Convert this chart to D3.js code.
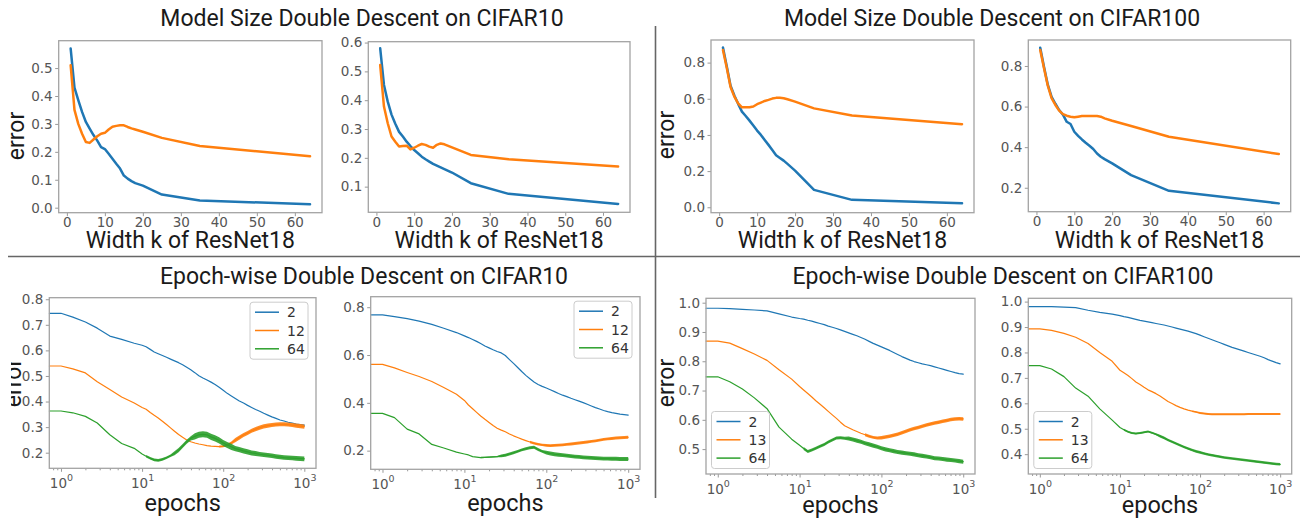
<!DOCTYPE html>
<html>
<head>
<meta charset="utf-8">
<script src="https://cdnjs.cloudflare.com/ajax/libs/d3/7.8.5/d3.min.js"></script>
<style>
  body { margin: 0; background: #fff; }
  svg { display: block; }
  .tick-label { font-family: 'DejaVu Sans', sans-serif; font-size: 13.5px; fill: #555; }
  .big { font-family: Roboto, sans-serif; fill: #1a1a1a; }
  .leg { font-family: 'DejaVu Sans', sans-serif; font-size: 14px; fill: #333; }
</style>
</head>
<body>
<svg id="fig" width="1300" height="520"></svg>
<script>
// ---- model-size panels (x = width k of ResNet18) ----
const widths = [1, 2, 3, 4, 5, 6, 7, 8, 9, 10, 11, 12, 13, 14, 15, 16, 17, 18, 20, 25, 35, 64];

const c10LeftBlue = [0.57, 0.43, 0.385, 0.343, 0.307, 0.283, 0.26, 0.24, 0.217, 0.21, 0.193, 0.175, 0.157, 0.14, 0.115, 0.104, 0.095, 0.088, 0.079, 0.047, 0.026, 0.012];
const c10LeftOrange = [0.51, 0.35, 0.30, 0.265, 0.235, 0.232, 0.244, 0.256, 0.265, 0.268, 0.28, 0.29, 0.293, 0.295, 0.295, 0.289, 0.284, 0.28, 0.272, 0.25, 0.221, 0.184];
const c10RightBlue = [0.58, 0.453, 0.395, 0.35, 0.318, 0.29, 0.274, 0.256, 0.241, 0.227, 0.216, 0.204, 0.195, 0.187, 0.179, 0.173, 0.167, 0.161, 0.149, 0.112, 0.075, 0.04];
const c10RightOrange = [0.522, 0.378, 0.32, 0.274, 0.256, 0.239, 0.241, 0.242, 0.229, 0.235, 0.242, 0.248, 0.245, 0.239, 0.235, 0.245, 0.25, 0.247, 0.236, 0.21, 0.195, 0.17];
const c100LeftBlue = [0.883, 0.78, 0.672, 0.618, 0.572, 0.529, 0.505, 0.479, 0.452, 0.424, 0.4, 0.372, 0.345, 0.317, 0.288, 0.273, 0.258, 0.24, 0.203, 0.096, 0.041, 0.022];
const c100LeftOrange = [0.87, 0.772, 0.665, 0.612, 0.575, 0.553, 0.553, 0.553, 0.557, 0.57, 0.579, 0.588, 0.594, 0.601, 0.605, 0.605, 0.603, 0.597, 0.584, 0.547, 0.507, 0.459];
const c100RightBlue = [0.89, 0.795, 0.708, 0.648, 0.614, 0.583, 0.56, 0.525, 0.514, 0.476, 0.456, 0.438, 0.422, 0.407, 0.391, 0.369, 0.353, 0.341, 0.32, 0.262, 0.185, 0.123];
const c100RightOrange = [0.879, 0.789, 0.703, 0.641, 0.608, 0.58, 0.563, 0.555, 0.55, 0.547, 0.55, 0.553, 0.553, 0.553, 0.553, 0.553, 0.55, 0.542, 0.53, 0.504, 0.451, 0.366];

// ---- epoch-wise panels (x = epochs, log) ----
const epochs = [0.72, 1, 1.4, 2, 2.8, 4, 5.6, 8,
  10, 11.2, 12.6, 14.1, 15.8, 17.8, 20, 22.4, 25.1, 28.2, 31.6, 35.5, 39.8, 44.7, 50.1, 56.2, 63.1, 70.8, 79.4, 89.1,
  100, 112, 126, 141, 158, 178, 200, 224, 251, 282, 316, 355, 398, 447, 501, 562, 631, 708, 794, 891,
  1000];

// CIFAR10, left
const ep10LeftW2 = [0.745, 0.745, 0.73, 0.711, 0.687, 0.656, 0.643, 0.628,
  0.62, 0.614, 0.604, 0.594, 0.587, 0.58, 0.573, 0.566, 0.559, 0.552, 0.544, 0.534, 0.524, 0.513, 0.501, 0.492, 0.484, 0.476, 0.467, 0.456,
  0.444, 0.432, 0.422, 0.412, 0.402, 0.394, 0.385, 0.377, 0.369, 0.362, 0.354, 0.347, 0.34, 0.334, 0.328, 0.324, 0.319, 0.316, 0.312, 0.31,
  0.308];
const ep10LeftW12 = [0.539, 0.539, 0.528, 0.512, 0.477, 0.447, 0.418, 0.394,
  0.377, 0.37, 0.357, 0.346, 0.336, 0.323, 0.31, 0.297, 0.284, 0.271, 0.26, 0.25, 0.243, 0.238, 0.234, 0.231, 0.228, 0.226, 0.225, 0.224,
  0.225, 0.23, 0.238, 0.249, 0.259, 0.269, 0.277, 0.286, 0.292, 0.298, 0.303, 0.306, 0.308, 0.31, 0.311, 0.311, 0.31, 0.308, 0.306, 0.304,
  0.302];
const ep10LeftW12Noise = [0, 0, 0, 0, 0, 0, 0, 0,
  0, 0, 0, 0, 0, 0, 0, 0, 0, 0, 0, 0, 0, 0, 0, 0, 0, 0, 0, 0.004,
  0.004, 0.005, 0.006, 0.008, 0.008, 0.008, 0.008, 0.008, 0.008, 0.008, 0.008, 0.008, 0.008, 0.008, 0.008, 0.008, 0.008, 0.008, 0.008, 0.008,
  0.008];
const ep10LeftW64 = [0.363, 0.363, 0.356, 0.342, 0.316, 0.27, 0.236, 0.217,
  0.195, 0.186, 0.178, 0.172, 0.17, 0.174, 0.18, 0.188, 0.198, 0.21, 0.226, 0.243, 0.256, 0.264, 0.27, 0.272, 0.27, 0.262, 0.256, 0.248,
  0.238, 0.23, 0.223, 0.216, 0.212, 0.207, 0.203, 0.199, 0.197, 0.194, 0.192, 0.19, 0.188, 0.185, 0.183, 0.181, 0.18, 0.179, 0.178, 0.177,
  0.176];
const ep10LeftW64Noise = [0, 0, 0, 0, 0, 0, 0, 0,
  0, 0.005, 0.005, 0.005, 0.005, 0.005, 0.005, 0.005, 0.008, 0.008, 0.008, 0.008, 0.008, 0.012, 0.012, 0.012, 0.012, 0.012, 0.012, 0.012,
  0.012, 0.012, 0.012, 0.01, 0.01, 0.01, 0.01, 0.01, 0.01, 0.009, 0.009, 0.009, 0.009, 0.009, 0.009, 0.009, 0.009, 0.009, 0.009, 0.009,
  0.009];

// CIFAR10, right
const ep10RightW2 = [0.768, 0.768, 0.761, 0.752, 0.742, 0.728, 0.712, 0.694,
  0.68, 0.673, 0.665, 0.657, 0.648, 0.638, 0.63, 0.622, 0.615, 0.609, 0.598, 0.581, 0.565, 0.548, 0.531, 0.515, 0.501, 0.487, 0.477, 0.469,
  0.462, 0.455, 0.447, 0.439, 0.432, 0.426, 0.419, 0.413, 0.407, 0.401, 0.394, 0.387, 0.38, 0.374, 0.368, 0.363, 0.359, 0.356, 0.353, 0.351,
  0.349];
const ep10RightW12 = [0.561, 0.561, 0.546, 0.527, 0.51, 0.489, 0.464, 0.436,
  0.41, 0.391, 0.375, 0.36, 0.345, 0.331, 0.318, 0.305, 0.294, 0.286, 0.279, 0.27, 0.262, 0.255, 0.248, 0.242, 0.236, 0.231, 0.227, 0.224,
  0.222, 0.221, 0.222, 0.223, 0.224, 0.226, 0.228, 0.23, 0.232, 0.234, 0.236, 0.239, 0.241, 0.244, 0.247, 0.249, 0.251, 0.253, 0.254, 0.255,
  0.256];
const ep10RightW12Noise = [0, 0, 0, 0, 0, 0, 0, 0,
  0, 0, 0, 0, 0, 0, 0, 0, 0, 0, 0, 0, 0, 0, 0, 0, 0.005, 0.005, 0.005, 0.005,
  0.006, 0.006, 0.006, 0.006, 0.006, 0.006, 0.006, 0.006, 0.006, 0.006, 0.006, 0.006, 0.006, 0.006, 0.006, 0.006, 0.006, 0.006, 0.006, 0.006,
  0.006];
const ep10RightW64 = [0.356, 0.356, 0.338, 0.29, 0.27, 0.226, 0.211, 0.194,
  0.186, 0.182, 0.175, 0.173, 0.171, 0.172, 0.173, 0.174, 0.175, 0.178, 0.181, 0.186, 0.191, 0.197, 0.203, 0.208, 0.212, 0.214, 0.205, 0.197,
  0.192, 0.188, 0.185, 0.183, 0.181, 0.179, 0.177, 0.175, 0.174, 0.172, 0.171, 0.17, 0.169, 0.168, 0.167, 0.167, 0.166, 0.166, 0.165, 0.165,
  0.165];
const ep10RightW64Noise = [0, 0, 0, 0, 0, 0, 0, 0,
  0, 0, 0, 0, 0.003, 0.003, 0.003, 0.003, 0.003, 0.006, 0.006, 0.006, 0.006, 0.006, 0.006, 0.006, 0.006, 0.006, 0.006, 0.006,
  0.008, 0.008, 0.008, 0.008, 0.008, 0.008, 0.008, 0.008, 0.008, 0.008, 0.008, 0.008, 0.008, 0.008, 0.008, 0.008, 0.008, 0.008, 0.008, 0.008,
  0.008];

// CIFAR100, left
const ep100LeftW2 = [0.981, 0.981, 0.98, 0.977, 0.975, 0.972, 0.962, 0.951,
  0.946, 0.944, 0.94, 0.937, 0.933, 0.929, 0.925, 0.92, 0.916, 0.912, 0.907, 0.902, 0.897, 0.892, 0.887, 0.881, 0.875, 0.868, 0.861, 0.855,
  0.849, 0.843, 0.837, 0.83, 0.823, 0.816, 0.81, 0.804, 0.799, 0.795, 0.791, 0.788, 0.785, 0.781, 0.777, 0.773, 0.769, 0.765, 0.761, 0.758,
  0.756];
const ep100LeftW13 = [0.869, 0.869, 0.862, 0.843, 0.825, 0.803, 0.771, 0.739,
  0.714, 0.702, 0.69, 0.678, 0.665, 0.653, 0.641, 0.629, 0.617, 0.605, 0.592, 0.58, 0.573, 0.566, 0.56, 0.554, 0.549, 0.544, 0.54, 0.538,
  0.539, 0.541, 0.544, 0.547, 0.551, 0.556, 0.561, 0.566, 0.57, 0.574, 0.578, 0.582, 0.586, 0.589, 0.592, 0.595, 0.598, 0.601, 0.603, 0.604,
  0.603];
const ep100LeftW13Noise = [0, 0, 0, 0, 0, 0, 0, 0,
  0, 0, 0, 0, 0, 0, 0, 0, 0, 0, 0, 0, 0, 0, 0, 0, 0.005, 0.005, 0.005, 0.005,
  0.006, 0.006, 0.006, 0.006, 0.006, 0.006, 0.006, 0.006, 0.006, 0.006, 0.006, 0.006, 0.006, 0.006, 0.006, 0.006, 0.006, 0.006, 0.006, 0.006,
  0.006];
const ep100LeftW64 = [0.747, 0.747, 0.73, 0.705, 0.675, 0.638, 0.575, 0.534,
  0.513, 0.502, 0.492, 0.497, 0.503, 0.51, 0.516, 0.524, 0.531, 0.538, 0.539, 0.537, 0.536, 0.533, 0.529, 0.525, 0.52, 0.516, 0.512, 0.508,
  0.503, 0.499, 0.496, 0.493, 0.49, 0.488, 0.486, 0.484, 0.482, 0.479, 0.477, 0.475, 0.472, 0.469, 0.468, 0.466, 0.464, 0.463, 0.461, 0.459,
  0.457];
const ep100LeftW64Noise = [0, 0, 0, 0, 0, 0, 0, 0,
  0, 0.005, 0.005, 0.005, 0.005, 0.005, 0.005, 0.005, 0.005, 0.005, 0.005, 0.005, 0.007, 0.007, 0.007, 0.007, 0.007, 0.007, 0.007, 0.007,
  0.007, 0.007, 0.007, 0.007, 0.007, 0.007, 0.007, 0.007, 0.007, 0.007, 0.007, 0.007, 0.007, 0.007, 0.007, 0.007, 0.007, 0.007, 0.007, 0.007,
  0.007];

// CIFAR100, right
const ep100RightW2 = [0.98, 0.98, 0.98, 0.978, 0.976, 0.966, 0.958, 0.951,
  0.945, 0.941, 0.938, 0.934, 0.93, 0.926, 0.923, 0.92, 0.917, 0.914, 0.911, 0.908, 0.904, 0.9, 0.896, 0.892, 0.888, 0.884, 0.879, 0.874,
  0.868, 0.862, 0.856, 0.85, 0.844, 0.838, 0.832, 0.826, 0.82, 0.815, 0.81, 0.805, 0.8, 0.795, 0.79, 0.785, 0.779, 0.772, 0.766, 0.76,
  0.755];
const ep100RightW13 = [0.893, 0.893, 0.887, 0.875, 0.86, 0.835, 0.8, 0.765,
  0.73, 0.72, 0.709, 0.697, 0.684, 0.674, 0.663, 0.653, 0.646, 0.638, 0.629, 0.618, 0.607, 0.599, 0.591, 0.584, 0.578, 0.573, 0.569, 0.566,
  0.562, 0.56, 0.558, 0.557, 0.557, 0.557, 0.557, 0.557, 0.557, 0.557, 0.557, 0.557, 0.558, 0.558, 0.558, 0.558, 0.558, 0.558, 0.558, 0.558,
  0.558];
const ep100RightW13Noise = [0, 0, 0, 0, 0, 0, 0, 0,
  0, 0, 0, 0, 0, 0, 0, 0, 0, 0, 0, 0, 0, 0, 0, 0, 0, 0, 0.003, 0.003,
  0.004, 0.004, 0.004, 0.004, 0.004, 0.004, 0.004, 0.004, 0.004, 0.004, 0.004, 0.004, 0.004, 0.004, 0.004, 0.004, 0.004, 0.004, 0.004, 0.004,
  0.004];
const ep100RightW64 = [0.748, 0.748, 0.735, 0.705, 0.66, 0.628, 0.578, 0.534,
  0.505, 0.496, 0.488, 0.483, 0.481, 0.483, 0.486, 0.489, 0.484, 0.478, 0.471, 0.464, 0.456, 0.449, 0.442, 0.435, 0.428, 0.422, 0.416, 0.411,
  0.407, 0.403, 0.399, 0.396, 0.393, 0.39, 0.387, 0.385, 0.383, 0.381, 0.379, 0.377, 0.375, 0.373, 0.371, 0.369, 0.367, 0.365, 0.363, 0.361,
  0.36];
const ep100RightW64Noise = [0, 0, 0, 0, 0, 0, 0, 0,
  0, 0.004, 0.004, 0.004, 0.004, 0.004, 0.004, 0.004, 0.004, 0.004, 0.005, 0.005, 0.005, 0.005, 0.005, 0.005, 0.005, 0.005, 0.005, 0.005,
  0.005, 0.005, 0.005, 0.005, 0.005, 0.005, 0.005, 0.005, 0.005, 0.005, 0.005, 0.005, 0.005, 0.005, 0.005, 0.005, 0.005, 0.005, 0.005, 0.005,
  0.005];

const sizeTicks = [0, 10, 20, 30, 40, 50, 60];
const epochTicks = [1, 10, 100, 1000];
const legend10 = ['2', '12', '64'];
const legend100 = ['2', '13', '64'];

const blue = '#1f77b4', orange = '#ff7f0e', green = '#2ca02c';
const svg = d3.select('#fig');

function styleAxis(sel) {
  sel.attr('font-size', null).attr('font-family', null);
  sel.select('.domain').remove();
  sel.selectAll('line').attr('stroke', '#999').attr('stroke-width', 1);
  sel.selectAll('text').attr('class', 'tick-label').attr('fill', null);
}

function drawPanel(p) {
  const [l, t, r, b] = p.box;
  const g = svg.append('g');
  const x = (p.log ? d3.scaleLog() : d3.scaleLinear()).domain(p.xDomain).range([l, r]);
  const y = d3.scaleLinear().domain(p.yDomain).range([b, t]);

  g.append('g')
    .attr('transform', 'translate(' + l + ',0)')
    .call(d3.axisLeft(y).tickValues(p.yTicks).tickSize(3.5).tickPadding(2.5).tickFormat(d3.format('.1f')))
    .call(styleAxis);

  if (p.log) {
    let minor = x.ticks().filter(v => Math.abs(Math.log10(v) - Math.round(Math.log10(v))) > 1e-6);
    g.append('g')
      .attr('transform', 'translate(0,' + b + ')')
      .call(d3.axisBottom(x).tickValues(minor).tickSize(2).tickFormat(''))
      .call(styleAxis);
    let xa = g.append('g')
      .attr('transform', 'translate(0,' + b + ')')
      .call(d3.axisBottom(x).tickValues(p.xTicks).tickSize(3.5).tickFormat(''))
      .call(styleAxis);
    xa.selectAll('.tick text').remove();
    let lab = xa.selectAll('.tick')
      .append('text')
      .attr('class', 'tick-label')
      .attr('text-anchor', 'middle')
      .attr('y', 19.5);
    lab.append('tspan').text('10');
    lab.append('tspan')
      .attr('dy', -6.5)
      .style('font-size', '9.5px')
      .text(d => Math.round(Math.log10(d)));
  } else {
    g.append('g')
      .attr('transform', 'translate(0,' + b + ')')
      .call(d3.axisBottom(x).tickValues(p.xTicks).tickSize(3.5).tickPadding(1.5))
      .call(styleAxis);
  }

  let line = d3.line()
    .x((d, i) => x(p.xs[i]))
    .y(d => y(d));

  p.series.forEach(s => {
    if (s.noise) {
      // fuzzy band where the training curve is noisy
      let band = d3.area()
        .defined((d, i) => s.noise[i] > 0)
        .x((d, i) => x(p.xs[i]))
        .y0((d, i) => y(d - s.noise[i]))
        .y1((d, i) => y(d + s.noise[i]));
      g.append('path')
        .datum(s.values)
        .attr('fill', s.color)
        .attr('fill-opacity', 0.9)
        .attr('d', band);
    }
    g.append('path')
      .datum(s.values)
      .attr('fill', 'none')
      .attr('stroke', s.color)
      .attr('stroke-width', p.lineWidth)
      .attr('stroke-linejoin', 'round')
      .attr('stroke-linecap', 'round')
      .attr('d', line);
  });

  g.append('rect')
    .attr('x', l)
    .attr('y', t)
    .attr('width', r - l)
    .attr('height', b - t)
    .attr('fill', 'none')
    .attr('stroke', '#a3a3a3')
    .attr('stroke-width', 1.3);

  if (p.legend) {
    let lw = 58, lh = 57;
    let lx = p.legend.corner === 'upper right' ? r - 8 - lw : l + 5.5;
    let ly = p.legend.corner === 'upper right' ? t + 4.5 : b - 5.5 - lh;
    let lg = g.append('g').attr('transform', 'translate(' + lx + ',' + ly + ')');
    lg.append('rect')
      .attr('width', lw)
      .attr('height', lh)
      .attr('rx', 3)
      .attr('fill', '#fff')
      .attr('fill-opacity', 0.8)
      .attr('stroke', '#ccc');
    p.legend.labels.forEach((txt, i) => {
      let yy = 10 + i * 18.3;
      lg.append('line')
        .attr('x1', 5).attr('x2', 29)
        .attr('y1', yy).attr('y2', yy)
        .attr('stroke', p.series[i].color)
        .attr('stroke-width', 1.5);
      lg.append('text')
        .attr('class', 'leg')
        .attr('x', 37)
        .attr('y', yy)
        .attr('dy', '0.36em')
        .text(txt);
    });
  }

  g.append('text')
    .attr('class', 'big')
    .attr('x', (l + r) / 2)
    .attr('y', p.xLabelY)
    .attr('text-anchor', 'middle')
    .style('font-size', p.log ? '23.5px' : '23px')
    .text(p.xLabel);

  if (p.yLabel) {
    let holder = g.append('g');
    if (p.yLabel.clip) holder.attr('clip-path', 'url(#ylabClip)');
    holder.append('text')
      .attr('class', 'big')
      .attr('transform', 'translate(' + p.yLabel.x + ',' + p.yLabel.y + ') rotate(-90)')
      .attr('text-anchor', 'middle')
      .style('font-size', '23px')
      .text('error');
  }
}

svg.append('defs')
  .append('clipPath')
  .attr('id', 'ylabClip')
  .attr('clipPathUnits', 'userSpaceOnUse')
  .append('rect')
  .attr('x', 11).attr('y', 0).attr('width', 200).attr('height', 520);

const sizeDomain = [-2.15, 67.15];
const epochDomain = [Math.pow(10, -0.144), Math.pow(10, 3.144)];

drawPanel({ box: [58.7, 40.7, 322, 212.7], xDomain: sizeDomain, yDomain: [-0.018, 0.598],
  yTicks: [0, 0.1, 0.2, 0.3, 0.4, 0.5], xTicks: sizeTicks, xs: widths, lineWidth: 2.5,
  series: [{ values: c10LeftBlue, color: blue }, { values: c10LeftOrange, color: orange }],
  xLabel: 'Width k of ResNet18', xLabelY: 247.5, yLabel: { x: 24, y: 136 } });
drawPanel({ box: [368.3, 41.7, 630, 212.3], xDomain: sizeDomain, yDomain: [0.011, 0.603],
  yTicks: [0.1, 0.2, 0.3, 0.4, 0.5, 0.6], xTicks: sizeTicks, xs: widths, lineWidth: 2.5,
  series: [{ values: c10RightBlue, color: blue }, { values: c10RightOrange, color: orange }],
  xLabel: 'Width k of ResNet18', xLabelY: 248 });
drawPanel({ box: [711, 40, 974, 212.7], xDomain: sizeDomain, yDomain: [-0.03, 0.925],
  yTicks: [0, 0.2, 0.4, 0.6, 0.8], xTicks: sizeTicks, xs: widths, lineWidth: 2.5,
  series: [{ values: c100LeftBlue, color: blue }, { values: c100LeftOrange, color: orange }],
  xLabel: 'Width k of ResNet18', xLabelY: 248, yLabel: { x: 674, y: 135 } });
drawPanel({ box: [1028.3, 40, 1290.7, 211.7], xDomain: sizeDomain, yDomain: [0.082, 0.928],
  yTicks: [0.2, 0.4, 0.6, 0.8], xTicks: sizeTicks, xs: widths, lineWidth: 2.5,
  series: [{ values: c100RightBlue, color: blue }, { values: c100RightOrange, color: orange }],
  xLabel: 'Width k of ResNet18', xLabelY: 248 });

drawPanel({ box: [49.3, 297.7, 316, 468.3], log: true, xDomain: epochDomain, yDomain: [0.139, 0.806],
  yTicks: [0.2, 0.3, 0.4, 0.5, 0.6, 0.7, 0.8], xTicks: epochTicks, xs: epochs, lineWidth: 1.2,
  series: [{ values: ep10LeftW2, color: blue },
    { values: ep10LeftW12, noise: ep10LeftW12Noise, color: orange },
    { values: ep10LeftW64, noise: ep10LeftW64Noise, color: green }],
  legend: { corner: 'upper right', labels: legend10 },
  xLabel: 'epochs', xLabelY: 511, yLabel: { x: 21, y: 383, clip: true } });
drawPanel({ box: [370.7, 296.7, 640, 469.3], log: true, xDomain: epochDomain, yDomain: [0.122, 0.844],
  yTicks: [0.2, 0.4, 0.6, 0.8], xTicks: epochTicks, xs: epochs, lineWidth: 1.2,
  series: [{ values: ep10RightW2, color: blue },
    { values: ep10RightW12, noise: ep10RightW12Noise, color: orange },
    { values: ep10RightW64, noise: ep10RightW64Noise, color: green }],
  legend: { corner: 'upper right', labels: legend10 },
  xLabel: 'epochs', xLabelY: 511 });
drawPanel({ box: [706, 298.3, 975, 474], log: true, xDomain: epochDomain, yDomain: [0.415, 1.015],
  yTicks: [0.5, 0.6, 0.7, 0.8, 0.9, 1.0], xTicks: epochTicks, xs: epochs, lineWidth: 1.2,
  series: [{ values: ep100LeftW2, color: blue },
    { values: ep100LeftW13, noise: ep100LeftW13Noise, color: orange },
    { values: ep100LeftW64, noise: ep100LeftW64Noise, color: green }],
  legend: { corner: 'lower left', labels: legend100 },
  xLabel: 'epochs', xLabelY: 513, yLabel: { x: 674, y: 383 } });
drawPanel({ box: [1028.3, 298.3, 1291.7, 474], log: true, xDomain: epochDomain, yDomain: [0.322, 1.013],
  yTicks: [0.4, 0.5, 0.6, 0.7, 0.8, 0.9, 1.0], xTicks: epochTicks, xs: epochs, lineWidth: 1.2,
  series: [{ values: ep100RightW2, color: blue },
    { values: ep100RightW13, noise: ep100RightW13Noise, color: orange },
    { values: ep100RightW64, noise: ep100RightW64Noise, color: green }],
  legend: { corner: 'lower left', labels: legend100 },
  xLabel: 'epochs', xLabelY: 513 });

// section titles
const titles = [
  { text: 'Model Size Double Descent on CIFAR10', x: 362, y: 26 },
  { text: 'Model Size Double Descent on CIFAR100', x: 992, y: 26 },
  { text: 'Epoch-wise Double Descent on CIFAR10', x: 364, y: 284 },
  { text: 'Epoch-wise Double Descent on CIFAR100', x: 1003, y: 284 }
];
svg.selectAll('.title')
  .data(titles)
  .enter()
  .append('text')
  .attr('class', 'big title')
  .attr('x', d => d.x)
  .attr('y', d => d.y)
  .attr('text-anchor', 'middle')
  .style('font-size', '23px')
  .text(d => d.text);

// quadrant dividers
svg.append('line')
  .attr('x1', 8).attr('x2', 1300)
  .attr('y1', 256.5).attr('y2', 256.5)
  .attr('stroke', '#666').attr('stroke-width', 1.6);
svg.append('line')
  .attr('x1', 655.5).attr('x2', 655.5)
  .attr('y1', 26).attr('y2', 498)
  .attr('stroke', '#666').attr('stroke-width', 1.6);
</script>
</body>
</html>
